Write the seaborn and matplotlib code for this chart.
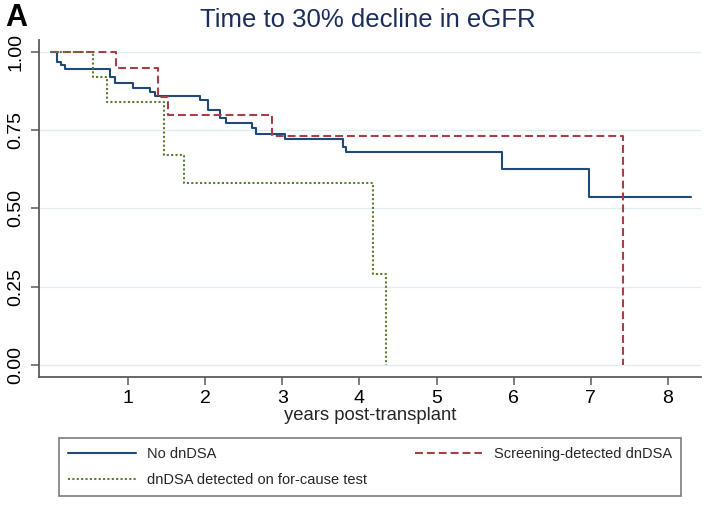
"""Kaplan-Meier style chart: time to 30% decline in eGFR."""

import matplotlib

matplotlib.use("Agg")

import matplotlib.pyplot as plt
import pandas as pd
import seaborn as sns

# values
no_dsa_years = [0, 0.08, 0.13, 0.18, 0.77, 0.83, 1.06, 1.28, 1.35, 1.93, 2.03,
                2.19, 2.27, 2.60, 2.66, 3.03, 3.79, 3.82, 5.85, 6.98, 8.30]
no_dsa_surv = [1.0, 0.969, 0.958, 0.944, 0.92, 0.90, 0.886, 0.873, 0.859, 0.847, 0.815,
               0.788, 0.772, 0.756, 0.737, 0.721, 0.697, 0.679, 0.626, 0.536, 0.536]

screening_years = [0, 0.84, 1.39, 1.52, 2.87, 7.42]
screening_surv = [1.0, 0.95, 0.857, 0.80, 0.73, 0.0]

for_cause_years = [0, 0.54, 0.72, 1.46, 1.72, 4.17, 4.34]
for_cause_surv = [1.0, 0.92, 0.84, 0.67, 0.58, 0.29, 0.0]

labels = ["No dnDSA", "Screening-detected dnDSA", "dnDSA detected on for-cause test"]
x_ticks = [1, 2, 3, 4, 5, 6, 7, 8]
y_ticks = [0.0, 0.25, 0.5, 0.75, 1.0]

sns.set_style("ticks")
plt.rcParams["font.family"] = ["Liberation Sans", "DejaVu Sans"]

AXIS_GRAY = "#5a5a5a"

figure = plt.figure(figsize=(7.11, 5.05), dpi=100)
axis = figure.add_axes([0.0549, 0.2535, 0.9311, 0.6673])

series = [
    (no_dsa_years, no_dsa_surv, labels[0], "#1f4a78", None),
    (screening_years, screening_surv, labels[1], "#a83f48", (3.8, 1.9)),
    (for_cause_years, for_cause_surv, labels[2], "#5a7d34", (1.0, 1.1)),
]

handles = {}
for years, surv, label, color, dash in series:
    frame = pd.DataFrame({"years": years, "surv": surv})
    before = len(axis.lines)
    sns.lineplot(data=frame, x="years", y="surv", ax=axis, color=color,
                 linewidth=1.5, drawstyle="steps-post", estimator=None,
                 sort=False, label=label)
    line = axis.lines[before]
    if dash is not None:
        line.set_dashes(dash)
        line.set_dash_capstyle("butt")
    handles[label] = line

axis.set_xlim(-0.156, 8.43)
axis.set_ylim(-0.038, 1.038)
axis.set_xticks(x_ticks)
axis.set_yticks(y_ticks)
axis.set_yticklabels([f"{v:.2f}" for v in y_ticks], rotation=90, va="center")
axis.tick_params(axis="both", labelsize=14, colors="black", length=5.5,
                 width=1.1, color=AXIS_GRAY)
axis.tick_params(axis="x", pad=4)
axis.tick_params(axis="y", pad=5)
axis.yaxis.grid(True, color="#e2edf1", linewidth=1.0)
axis.set_axisbelow(True)
for side in ("top", "right"):
    axis.spines[side].set_visible(False)
for side in ("left", "bottom"):
    axis.spines[side].set_color(AXIS_GRAY)
    axis.spines[side].set_linewidth(1.3)

axis.set_xlabel("years post-transplant", fontsize=13.3, labelpad=0)
axis.set_ylabel("")

axis.get_legend().remove()
order = [labels[0], labels[2], labels[1]]
legend = figure.legend(
    [handles[name] for name in order], order,
    loc="center", bbox_to_anchor=(0.083, 0.0158, 0.875, 0.119), mode="expand",
    borderaxespad=0, ncol=2, fontsize=10.5, handlelength=4.6, handletextpad=0.8,
    labelspacing=0.8, borderpad=0.65, fancybox=False, frameon=True,
)
legend.get_frame().set_edgecolor(AXIS_GRAY)
legend.get_frame().set_linewidth(1.2)

figure.text(0.518, 0.96, "Time to 30% decline in eGFR", ha="center", va="center",
            fontsize=18.5, color="#1c2e5c")
figure.text(0.007, 0.994, "A", ha="left", va="top", fontsize=22, fontweight="bold",
            color="black")

figure.savefig("out.png", dpi=100)
plt.close(figure)
